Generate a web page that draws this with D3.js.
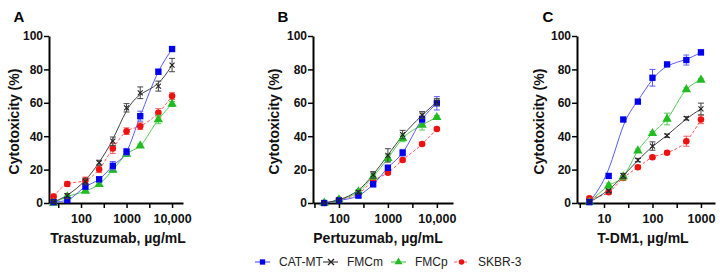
<!DOCTYPE html>
<html>
<head>
<meta charset="utf-8">
<script src="https://cdn.jsdelivr.net/npm/d3@7"></script>
<style>
  body { margin: 0; background: #fff; }
  svg { font-family: Arial, "Liberation Sans", sans-serif; }
</style>
</head>
<body>
<div id="chart"></div>
<script>
// Panel A: trastuzumab
const doseA = [25, 50, 125, 250, 500, 1000, 2000, 5000, 10000];
const catmtA = [0.5, 1.8, 9.8, 14.2, 22.3, 30.7, 52, 78.6, 92.2];
const fmcmA = [0.6, 4.2, 12.8, 24.1, 37, 57, 66, 70, 82.6];
const fmcpA = [0, 3.8, 7.2, 11.2, 19.8, 29.3, 34.3, 50, 59.3];
const skbrA = [3.8, 11.4, 13.5, 20.2, 32.7, 43, 46, 54, 64];
const catmtErrA = [0.8, 1, 1.5, 1.5, 2.5, 2, 3, 1.5, 1];
const fmcmErrA = [1, 1.5, 2, 1.5, 2.5, 2.5, 3.5, 3, 4];
const fmcpErrA = [0.5, 1, 1, 1, 1.5, 1.5, 1, 2.5, 1.5];
const skbrErrA = [1.5, 1.5, 2, 2, 3, 2, 2, 2.5, 2];

// Panel B: pertuzumab
const doseB = [50, 100, 250, 500, 1000, 2000, 5000, 10000];
const catmtB = [0, 1.5, 4.4, 11.2, 21.1, 30.1, 50.1, 59.7];
const fmcmB = [0, 1.5, 6.5, 16.8, 28.5, 41, 52.7, 60.5];
const fmcpB = [0, 2, 6.8, 15.8, 26.8, 38.7, 46.7, 51.3];
const skbrB = [0, 2, 5.5, 13.4, 18.1, 25.7, 35.3, 44.3];
const catmtErrB = [0, 0.5, 1, 1.5, 1.5, 2, 2, 4];
const fmcmErrB = [0, 0.5, 1, 2, 4, 2.5, 2, 2];
const fmcpErrB = [0, 0.5, 1, 1.5, 2, 2, 3, 1];
const skbrErrB = [0, 0.5, 0.5, 1, 1, 1, 1, 1];

// Panel C: T-DM1
const doseC = [5, 12.5, 25, 50, 100, 200, 500, 1000];
const catmtC = [0.5, 16.2, 50, 60.7, 75, 83, 85.6, 90.2];
const fmcmC = [0.5, 7.2, 16.2, 25.7, 34.1, 40.3, 50.7, 56.3];
const fmcpC = [0.5, 10.4, 15.8, 31.3, 41.7, 50.3, 68, 73.7];
const skbrC = [2.8, 6.4, 15, 21.4, 27.4, 30.1, 37, 50];
const catmtErrC = [0.5, 1.5, 1, 1, 5, 1, 3, 1.5];
const fmcmErrC = [0.5, 1, 1.5, 1, 2.5, 1, 1, 3.5];
const fmcpErrC = [0.5, 1.5, 2, 1, 1, 3.5, 1, 1];
const skbrErrC = [1, 1, 1.5, 1, 1, 1, 3, 2.5];

const seriesNames = ["CAT-MT", "FMCm", "FMCp", "SKBR-3"];
const panelLabels = ["A", "B", "C"];
const xTitles = ["Trastuzumab, \u00b5g/mL", "Pertuzumab, \u00b5g/mL", "T-DM1, \u00b5g/mL"];
const yTicks = [0, 20, 40, 60, 80, 100];

const styles = {
    "CAT-MT": { marker: "#0000ee", line: "#5a5aff", shape: d3.symbolSquare, size: 40, dash: null },
    "FMCm":   { marker: "#222", line: "#444", shape: d3.symbolCross, size: 40, dash: null },
    "FMCp":   { marker: "#22bb22", line: "#55cc55", shape: d3.symbolTriangle, size: 38, dash: null },
    "SKBR-3": { marker: "#ee1111", line: "#ff5555", shape: d3.symbolCircle, size: 34, dash: "3,2" }
};

const W = 720, H = 273;
const y0 = 203, y100 = 36;

const svg = d3.select("#chart")
    .append("svg")
    .attr("width", W)
    .attr("height", H);

svg.append("rect").attr("width", W).attr("height", H).attr("fill", "#fff");

const panels = [
    {
        dose: doseA, left: 49, right: 183, logMin: 1.297, logMax: 4.24,
        ticks: [1.5, 2, 2.5, 3, 3.5, 4],
        series: [catmtA, fmcmA, fmcpA, skbrA],
        errs: [catmtErrA, fmcmErrA, fmcpErrA, skbrErrA],
        smooth: [false, true, false, false],
        labelX: 19, yTitleX: 14, xTitleX: 118
    },
    {
        dose: doseB, left: 313, right: 453, logMin: 1.47, logMax: 4.33,
        ticks: [1.5, 2, 2.5, 3, 3.5, 4],
        series: [catmtB, fmcmB, fmcpB, skbrB],
        errs: [catmtErrB, fmcmErrB, fmcpErrB, skbrErrB],
        smooth: [false, true, false, false],
        labelX: 283, yTitleX: 274, xTitleX: 378
    },
    {
        dose: doseC, left: 577, right: 715, logMin: 0.443, logMax: 3.29,
        ticks: [0.5, 1, 1.5, 2, 2.5, 3],
        series: [catmtC, fmcmC, fmcpC, skbrC],
        errs: [catmtErrC, fmcmErrC, fmcpErrC, skbrErrC],
        smooth: [true, true, false, false],
        labelX: 548, yTitleX: 539, xTitleX: 643
    }
];

const fmtTick = v => {
    const l = Math.log10(v);
    if (Math.abs(l - Math.round(l)) > 1e-6) return "";
    return v >= 10000 ? d3.format(",")(Math.round(v)) : String(Math.round(v));
};

panels.forEach((p, pi) => {
    const x = d3.scaleLog()
        .domain([Math.pow(10, p.logMin), Math.pow(10, p.logMax)])
        .range([p.left, p.right]);
    const y = d3.scaleLinear().domain([0, 100]).range([y0, y100]);

    const g = svg.append("g");

    // axes
    const xAxis = g.append("g")
        .attr("transform", `translate(0,${y0})`)
        .call(d3.axisBottom(x)
            .tickValues(p.ticks.map(t => Math.pow(10, t)))
            .tickFormat(fmtTick)
            .tickSize(5)
            .tickSizeOuter(0));
    xAxis.select(".domain").attr("stroke", "#000").attr("stroke-width", 2);
    xAxis.selectAll(".tick line").attr("stroke", "#000").attr("stroke-width", 1.5);
    xAxis.selectAll(".tick text")
        .attr("font-size", 12.5).attr("font-weight", "bold").attr("fill", "#111")
        .attr("dy", "0.95em").attr("font-family", "Arial, 'Liberation Sans', sans-serif");

    const yAxis = g.append("g")
        .attr("transform", `translate(${p.left},0)`)
        .call(d3.axisLeft(y).tickValues(yTicks).tickSize(5).tickSizeOuter(0));
    yAxis.select(".domain").attr("stroke", "#000").attr("stroke-width", 2);
    yAxis.selectAll(".tick line").attr("stroke", "#000").attr("stroke-width", 1.5);
    yAxis.selectAll(".tick text")
        .attr("font-size", 12).attr("font-weight", "bold").attr("fill", "#111")
        .attr("x", -6).attr("font-family", "Arial, 'Liberation Sans', sans-serif");

    // titles
    g.append("text")
        .attr("x", p.labelX).attr("y", 22)
        .attr("text-anchor", "middle")
        .attr("font-size", 15).attr("font-weight", "bold")
        .text(panelLabels[pi]);

    g.append("text")
        .attr("transform", `translate(${p.yTitleX},${(y0 + y100) / 2 + 2}) rotate(-90)`)
        .attr("text-anchor", "middle")
        .attr("dy", "0.35em")
        .attr("font-size", 14).attr("font-weight", "bold").attr("fill", "#111")
        .text("Cytotoxicity (%)");

    g.append("text")
        .attr("x", p.xTitleX).attr("y", 243)
        .attr("text-anchor", "middle")
        .attr("font-size", 14).attr("font-weight", "bold").attr("fill", "#111")
        .text(xTitles[pi]);

    // series: draw lines first, then error bars and markers
    const order = [3, 2, 0, 1];
    order.forEach(si => {
        const st = styles[seriesNames[si]];
        const pts = p.dose.map((d, i) => ({ d, v: p.series[si][i], e: p.errs[si][i] }));
        g.append("path")
            .datum(pts)
            .attr("fill", "none")
            .attr("stroke", st.line)
            .attr("stroke-width", 1)
            .attr("stroke-dasharray", st.dash)
            .attr("d", d3.line()
                .curve(p.smooth[si] ? d3.curveBasis : d3.curveMonotoneX)
                .x(d => x(d.d))
                .y(d => y(d.v)));
    });

    order.forEach(si => {
        const st = styles[seriesNames[si]];
        const pts = p.dose.map((d, i) => ({ d, v: p.series[si][i], e: p.errs[si][i] }));
        const eb = g.append("g").attr("stroke", st.line).attr("stroke-width", 1);
        pts.filter(d => d.e > 0.8).forEach(d => {
            const cx = x(d.d);
            eb.append("line").attr("x1", cx).attr("x2", cx)
                .attr("y1", y(d.v + d.e)).attr("y2", y(Math.max(0, d.v - d.e)));
            eb.append("line").attr("x1", cx - 3).attr("x2", cx + 3)
                .attr("y1", y(d.v + d.e)).attr("y2", y(d.v + d.e));
            eb.append("line").attr("x1", cx - 3).attr("x2", cx + 3)
                .attr("y1", y(Math.max(0, d.v - d.e))).attr("y2", y(Math.max(0, d.v - d.e)));
        });

        // FMCm uses a plain "x" mark, the others filled d3 symbols
        g.selectAll(null)
            .data(pts)
            .join("path")
            .attr("transform", d => `translate(${x(d.d)},${y(d.v)})`)
            .attr("d", si === 1 ? "M-2.5,-2.5L2.5,2.5M-2.5,2.5L2.5,-2.5"
                                : d3.symbol().type(st.shape).size(st.size)())
            .attr("fill", si === 1 ? "none" : st.marker)
            .attr("stroke", si === 1 ? st.marker : "none")
            .attr("stroke-width", 1.1);
    });
});

// legend
const legendX = [255, 323, 391, 454];
const legend = svg.append("g").attr("transform", "translate(0,262)");
seriesNames.forEach((name, i) => {
    const st = styles[name];
    const lx = legendX[i];
    legend.append("line")
        .attr("x1", lx).attr("x2", lx + 15)
        .attr("stroke", st.line).attr("stroke-width", 1.2)
        .attr("stroke-dasharray", st.dash);
    if (i === 1) {
        legend.append("path")
            .attr("transform", `translate(${lx + 8},0)`)
            .attr("d", "M-3,-3L3,3M-3,3L3,-3")
            .attr("stroke", st.marker).attr("stroke-width", 1.3);
    } else {
        legend.append("path")
            .attr("transform", `translate(${lx + 7.5},0)`)
            .attr("d", d3.symbol().type(st.shape).size(st.size * 0.7))
            .attr("fill", st.marker);
    }
    legend.append("text")
        .attr("x", lx + 24).attr("y", 0)
        .attr("dy", "0.35em")
        .attr("font-size", 12).attr("fill", "#222")
        .text(name);
});
</script>
</body>
</html>
